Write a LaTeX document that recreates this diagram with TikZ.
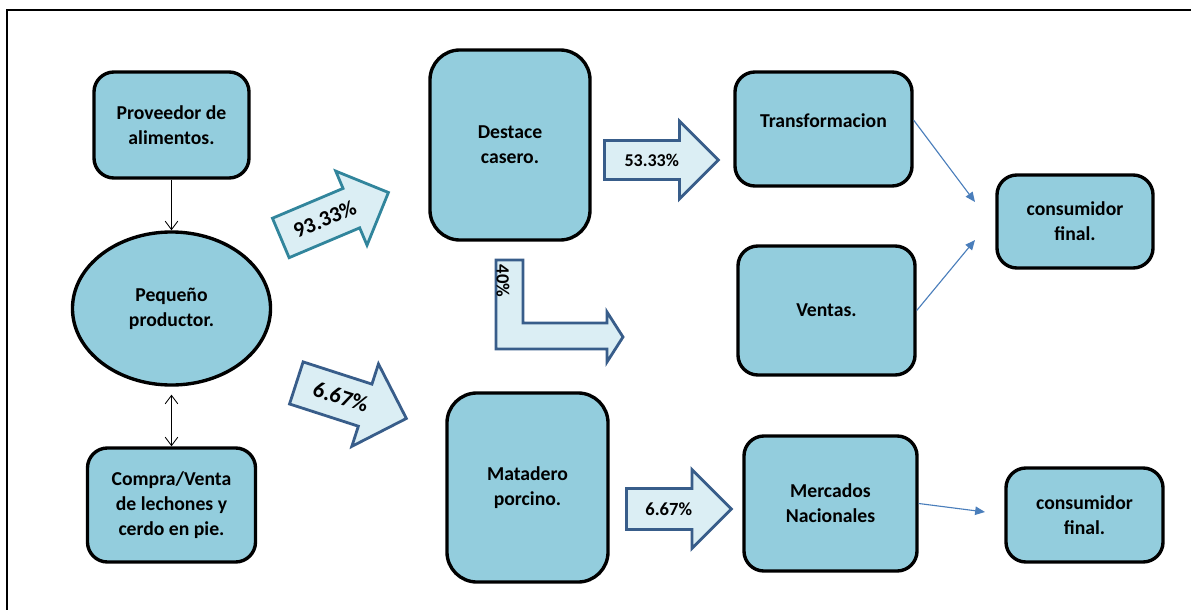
\documentclass[tikz,border=0pt]{standalone}
\usepackage{fontspec}
\setmainfont{Carlito}
\usepackage{xcolor}
\usepackage{tikz}
\usetikzlibrary{arrows.meta,shapes.geometric,shapes.arrows}
\definecolor{boxfill}{HTML}{93CDDD}
\definecolor{arrfill}{HTML}{DBEEF4}
\definecolor{arrline}{HTML}{385D8A}
\definecolor{tealline}{HTML}{31859C}
\definecolor{linkblue}{HTML}{4A7EBB}
\tikzset{barb/.tip={Straight Barb[length=6pt,width=9pt]}}

\begin{document}
\begin{tikzpicture}[x=0.025cm,y=-0.025cm,
 base/.style={draw=black,line width=2.4pt,fill=boxfill,align=center,font=\bfseries\fontsize{14}{17.7}\selectfont},
 box/.style={base,rounded corners=0.5cm},
 bigbox/.style={base,rounded corners=0.75cm},
 blockarr/.style={single arrow,draw=arrline,line width=2pt,fill=arrfill,anchor=tail,inner xsep=2pt,inner ysep=0pt},
 feed/.style={black,line width=0.6pt,-barb},
 link/.style={linkblue,line width=0.8pt,-{Triangle[length=7pt,width=6pt]}}]
\useasboundingbox (0,0) rectangle (1191,610);
\draw[line width=1.2pt] (7,610) -- (7,10) -- (1191,10);

% left column
\node[box,minimum width=3.875cm,minimum height=2.65cm] (prov) at (171.5,125) {Proveedor de\\alimentos.};
\node[base,ellipse,minimum width=4.95cm,minimum height=3.825cm] (prod) at (171.5,308.5) {Peque\~no\\productor.};
\node[box,minimum width=4.2cm,minimum height=2.85cm] (compra) at (171.5,505) {Compra/Venta\\de lechones y\\cerdo en pie.};
\draw[feed] (prov.south) -- (prod.north);
\draw[black,line width=0.6pt,barb-barb,shorten <=0.2cm] (prod.south) -- (compra.north);

% middle column
\node[bigbox,minimum width=4cm,minimum height=4.75cm] (destace) at (510,145) {Destace\\casero.};
\node[bigbox,minimum width=4.025cm,minimum height=4.725cm] (matadero) at (527.5,487.5) {Matadero\\porcino.};

% block arrows
\node[blockarr,draw=tealline,rotate=22.9,minimum height=2.92cm,minimum width=1.94cm,single arrow head extend=0.47cm,text height=0.68cm,text depth=0.32cm,font=\bfseries\fontsize{15.5}{18}\selectfont] (a93) at (279.5,238.5) {93.33\%};
\node[blockarr,rotate=-17.9,minimum height=2.89cm,minimum width=2.1cm,single arrow head extend=0.53cm,text height=0.7cm,text depth=0.335cm,font=\bfseries\fontsize{16}{19}\selectfont] (a7) at (295,382.5) {6.67\%};
\node[blockarr,minimum height=2.85cm,minimum width=1.875cm,single arrow head extend=0.49cm,text height=0.6cm,text depth=0.3cm,font=\bfseries\fontsize{12.8}{15}\selectfont] (a53) at (603,160) {53.33\%};
\node[blockarr,minimum height=2.625cm,minimum width=1.9cm,single arrow head extend=0.475cm,text height=0.625cm,text depth=0.325cm,font=\bfseries\fontsize{13.2}{15}\selectfont] (b7) at (625,509) {6.67\%};
\draw[line width=2pt,draw=arrline,fill=arrfill] (496,260) -- (523,260) -- (523,323) -- (607,323) -- (607,312) -- (623,337) -- (607,362) -- (607,349) -- (496,349) -- cycle;
\node[rotate=-90,font=\bfseries\fontsize{13.3}{15}\selectfont] (a40) at (503,281) {40\%};

% right side
\node[box,minimum width=4.425cm,minimum height=2.85cm,text depth=0.4cm] (transf) at (823.5,129) {Transformacion};
\node[box,minimum width=4.425cm,minimum height=3.225cm] (ventas) at (826.5,310.5) {Ventas.};
\node[box,minimum width=4.325cm,minimum height=3.375cm] (mercados) at (830.5,503.5) {Mercados\\Nacionales};
\node[box,minimum width=3.9cm,minimum height=2.325cm] (cons1) at (1075,221.5) {consumidor\\final.};
\node[box,minimum width=3.925cm,minimum height=2.35cm] (cons2) at (1084.5,515) {consumidor\\final.};
\coordinate (in1) at (975,202);
\coordinate (in2) at (975,240);
\coordinate (in3) at (985,512);
\draw[link] ([yshift=0.22cm]transf.east) -- (in1);
\draw[link] (ventas.east) -- (in2);
\draw[link] (mercados.east) -- (in3);
\end{tikzpicture}
\end{document}
